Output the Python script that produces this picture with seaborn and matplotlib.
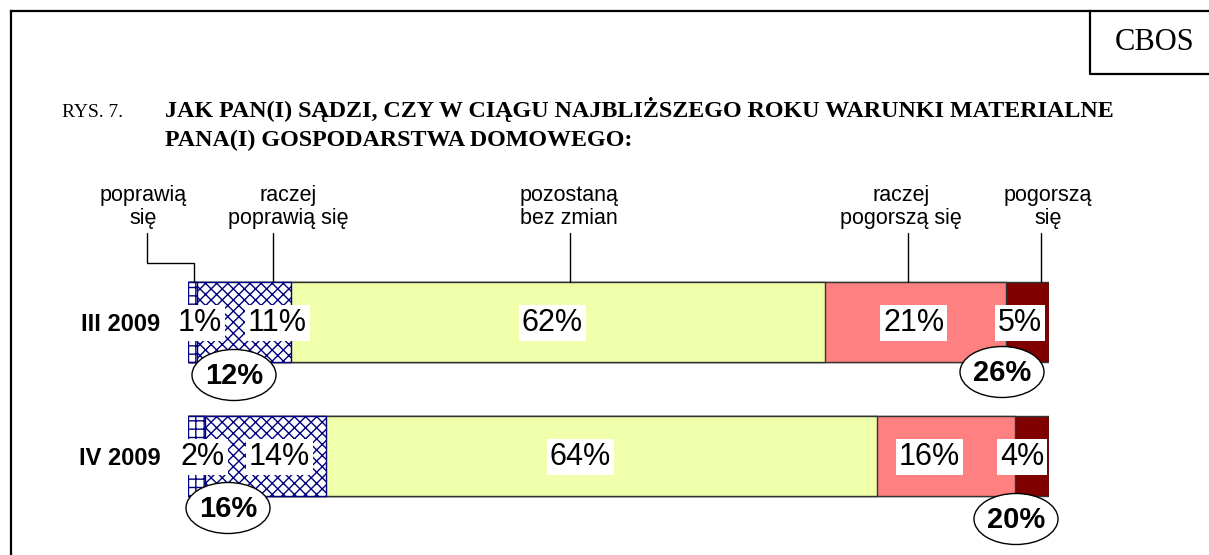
import pandas as pd
import seaborn as sns
import matplotlib.pyplot as plt
from matplotlib.patches import Ellipse

sns.set_theme(style="white")
plt.rcParams["font.family"] = ["Liberation Sans", "DejaVu Sans"]
plt.rcParams["text.color"] = "black"
plt.rcParams["ytick.color"] = "black"
plt.rcParams["hatch.linewidth"] = 1.0

# data
periods = ["III 2009", "IV 2009"]
answers = ["poprawią\nsię", "raczej\npoprawią się", "pozostaną\nbez zmian",
           "raczej\npogorszą się", "pogorszą\nsię"]
values_iii = [1, 11, 62, 21, 5]
values_iv = [2, 14, 64, 16, 4]
colors = ["white", "white", "#F0FFAA", "#FF8080", "#800000"]
hatches = ["++", "xxx", None, None, None]
edges = ["#000080", "#000080", "#333333", "#333333", "#333333"]

# where the Excel labels sit inside the bars (percent of axis)
label_pos_iii = [1.4, 10.4, 42.3, 84.3, 96.6]
label_pos_iv = [1.7, 10.6, 45.6, 86.1, 96.9]

W, H = 1209, 555
fig = plt.figure(figsize=(W / 100, H / 100), dpi=100)

ax = fig.add_axes([188 / W, 0, 861 / W, 1])
ax.patch.set_alpha(0)

# decoration layer in pixel coordinates, above the bars
ax0 = fig.add_axes([0, 0, 1, 1], zorder=5)
ax0.set_xlim(0, W)
ax0.set_ylim(H, 0)
ax0.axis("off")

rows = []
for p, vals in zip(periods, [values_iii, values_iv]):
    cum = 0
    for a, v in zip(answers, vals):
        cum += v
        rows.append({"period": p, "answer": a, "value": v, "cum": cum})
df = pd.DataFrame(rows)

# stacked bars: draw cumulative totals from the last segment to the first
for i in range(len(answers) - 1, -1, -1):
    sub = df[df["answer"] == answers[i]]
    sns.barplot(data=sub, x="cum", y="period", order=periods, orient="h",
                color=colors[i], saturation=1, width=0.6, hatch=hatches[i],
                edgecolor=edges[i], linewidth=1.0, ax=ax)

ax.set_xlim(0, 100)
ax.set_ylim(1.739, -2.403)
ax.set_xlabel("")
ax.set_ylabel("")
ax.set_xticks([])
for s in ax.spines.values():
    s.set_visible(False)
ax.tick_params(axis="y", length=0, pad=20)
for t in ax.get_yticklabels():
    t.set_fontsize(17)
    t.set_fontweight("bold")

# percentage labels with white boxes
for yi, (vals, pos) in enumerate([(values_iii, label_pos_iii), (values_iv, label_pos_iv)]):
    for v, x in zip(vals, pos):
        ax.text(x, yi + 0.01, f"{v}%", ha="center", va="center", fontsize=22,
                color="black", zorder=5,
                bbox=dict(boxstyle="square,pad=0.1", fc="white", ec="none"))

# sums in ellipses
ell = [
    ((234, 375), sum(values_iii[:2])),
    ((1002, 372), sum(values_iii[3:])),
    ((228, 508), sum(values_iv[:2])),
    ((1016, 519), sum(values_iv[3:])),
]
for (cx, cy), total in ell:
    ax0.add_patch(Ellipse((cx, cy), 84, 51, fc="white", ec="black", lw=1.0))
    ax0.text(cx, cy + 1, f"{total}%", ha="center", va="center",
             fontsize=21, fontweight="bold")

# category captions above bars
caps_x = [143, 288, 569, 901, 1048]
line_x = [147, 273, 570, 908, 1041]
for a, cx in zip(answers, caps_x):
    ax0.text(cx, 229, a, ha="center", va="bottom", fontsize=15.5, linespacing=1.15)
lk = dict(color="black", lw=1.0)
ax0.plot([147, 147, 194, 194], [233, 263, 263, 282], **lk)
for lx in line_x[1:]:
    ax0.plot([lx, lx], [233, 282], **lk)

# frame and header
fk = dict(color="black", lw=1.6, solid_capstyle="projecting")
ax0.plot([11, W], [11, 11], **fk)
ax0.plot([11, 11], [11, H], **fk)
ax0.plot([1090, 1090, W], [11, 74, 74], **fk)
ax0.text(1155, 42, "CBOS", ha="center", va="center", fontsize=22,
         family="Liberation Serif")
ax0.text(62, 117, "RYS. 7.", ha="left", va="baseline", fontsize=14,
         family="Liberation Serif")
ax0.text(165, 117, "JAK PAN(I) SĄDZI, CZY W CIĄGU NAJBLIŻSZEGO ROKU WARUNKI MATERIALNE",
         ha="left", va="baseline", fontsize=17.3, fontweight="bold",
         family="Liberation Serif")
ax0.text(165, 146, "PANA(I) GOSPODARSTWA DOMOWEGO:", ha="left", va="baseline",
         fontsize=17.3, fontweight="bold", family="Liberation Serif")

fig.savefig("out.png", dpi=100)
